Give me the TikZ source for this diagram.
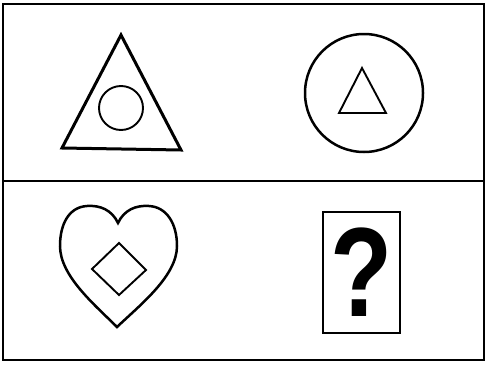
\documentclass[tikz,border=0pt]{standalone}
\usepackage{fontspec}
\newfontfamily\qfont{Liberation Sans}
\begin{document}
\begin{tikzpicture}[x=1pt,y=-1pt,
  frame/.style={line width=2.4pt},
  thick shape/.style={line width=3pt, line join=miter},
  thin shape/.style={line width=1.9pt}]
\useasboundingbox (0,0) rectangle (489,372);
% frame
\draw[frame] (3,4) rectangle (484,360);
\draw[frame] (3,181) -- (484,181);
% top-left: triangle with circle
\draw[thick shape] (121,35) -- (181,150) -- (62,148) -- cycle;
\draw[thin shape] (121,108) circle (22);
% top-right: circle with triangle
\draw[line width=2.5pt] (364,93) circle (59);
\draw[thin shape] (362,68) -- (386,113) -- (339,113) -- cycle;
% bottom-left: heart with diamond
\draw[line width=2.5pt]
  (118,223) .. controls (112,210) and (100,205) .. (87,206)
  .. controls (69,207) and (60,224) .. (60,246)
  .. controls (60,276) and (95,305) .. (117,327)
  .. controls (140,305) and (177,276) .. (177,246)
  .. controls (177,224) and (167,207) .. (149,206)
  .. controls (136,205) and (124,210) .. (118,223) -- cycle;
\draw[thin shape] (119,243) -- (146,270) -- (119,295) -- (92,269) -- cycle;
% bottom-right: question mark box
\node[draw, line width=1.9pt, minimum width=77pt, minimum height=121pt, inner sep=0pt] (qbox) at (361.5,272.5) {};
\node[inner sep=0pt, xscale=0.8] (qmark) at (qbox.center) {\qfont\bfseries\fontsize{127}{127}\selectfont ?};
\end{tikzpicture}
\end{document}
